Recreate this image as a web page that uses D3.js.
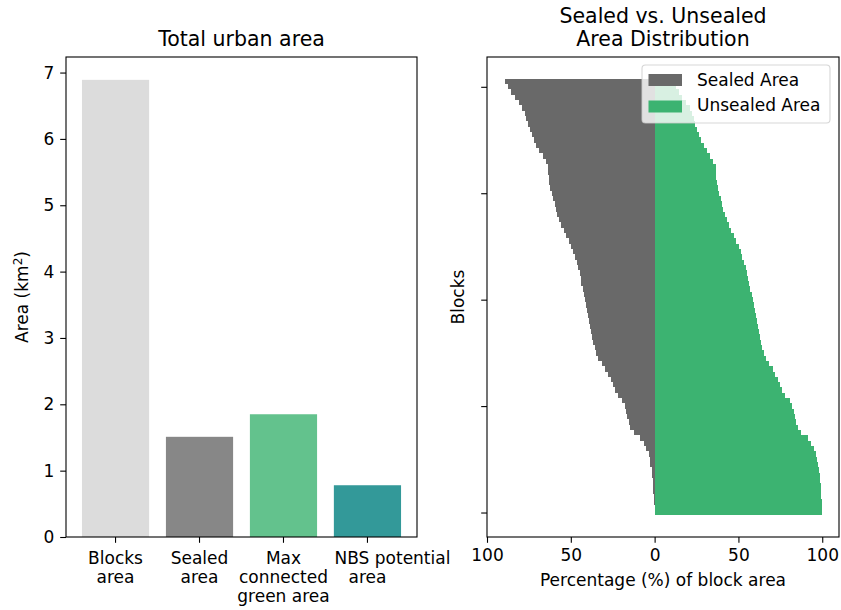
<!DOCTYPE html>
<html>
<head>
<meta charset="utf-8">
<script src="https://cdn.jsdelivr.net/npm/d3@7"></script>
<style>
  html, body { margin: 0; padding: 0; background: #fff; }
  svg { display: block; font-family: "DejaVu Sans", sans-serif; }
  svg text { font-family: "DejaVu Sans", sans-serif; }
</style>
</head>
<body>
<svg id="chart" width="841" height="610"></svg>
<script>
// ---------- DATA ----------
const categories = ["Blocks\narea", "Sealed\narea", "Max\nconnected\ngreen area", "NBS potential\narea"];
const areaValues = [6.89, 1.51, 1.85, 0.78];
const barColors = ["#dcdcdc", "#878787", "#63c28d", "#339999"];
const areaTicks = [0, 1, 2, 3, 4, 5, 6, 7];

// Per block (index 0 = bottom row), percentage of block area
const sealedPct = [0, 0, 0.3, 0.6, 0.8, 1, 1.2, 1.5, 1.8, 2.6, 3, 3.6, 5.2, 6.5, 8.5, 12.5, 14.4, 15.5, 16.5, 17,
  17.8, 19.5, 22, 23.8, 25, 26.3, 27.9, 29.5, 31.5, 33.8, 34.9, 35.8, 36.5, 37.2, 37.9, 38.5, 39.1, 39.6, 40.3, 41,
  41.5, 42, 43, 43.7, 44.2, 44.8, 45.5, 46.5, 47.6, 48.7, 49.7, 51.2, 52.8, 54.3, 55.6, 57, 58.2, 59, 59.7, 60.5,
  61.4, 62.4, 63, 63.2, 63.4, 63.6, 65, 66.8, 68.7, 70.6, 72.2, 73.3, 74.6, 75.8, 76.8, 77.6, 79, 81.2, 83.5, 85.5,
  87.5, 89.5];
const unsealedPct = [100, 100, 99.7, 99.4, 99.2, 99, 98.8, 98.5, 98.2, 97.4, 97, 96.4, 94.8, 93.5, 91.5, 87.5, 85.6, 84.5, 83.5, 83,
  82.2, 80.5, 78, 76.2, 75, 73.7, 72.1, 70.5, 68.5, 66.2, 65.1, 64.2, 63.5, 62.8, 62.1, 61.5, 60.9, 60.4, 59.7, 59,
  58.5, 58, 57, 56.3, 55.8, 55.2, 54.5, 53.5, 52.4, 51.3, 50.3, 48.8, 47.2, 45.7, 44.4, 43, 41.8, 41, 40.3, 39.5,
  38.6, 37.6, 37, 36.8, 36.6, 36.4, 35, 33.2, 31.3, 29.4, 27.8, 26.7, 25.4, 24.2, 23.2, 22.4, 21, 18.8, 16.5, 14.5,
  12.5, 10.5];
const pctTicks = [-100, -50, 0, 50, 100];
const blockTicks = [0, 20, 40, 60, 80];
const seriesNames = ["Sealed Area", "Unsealed Area"];
const seriesColors = ["#696969", "#3cb371"];

// ---------- LAYOUT ----------
const FONT = "DejaVu Sans, sans-serif";
const svg = d3.select("#chart");
const FS = 17, TFS = 20.5;
const L = { x0: 66, x1: 417, y0: 57, y1: 537 };
const R = { x0: 487, x1: 839, y0: 57, y1: 537 };
const tickLen = 5.8, tickPad = 5.8;

function styleAxis(a) {
  a.attr("font-family", FONT).attr("font-size", FS);
  a.select(".domain").remove();
  a.selectAll(".tick line").attr("stroke", "#000").attr("stroke-width", 1.1);
  a.selectAll(".tick text").style("font-size", FS + "px").style("font-family", FONT).attr("fill", "#000");
}

// ---------- LEFT CHART ----------
const xL = d3.scaleBand().domain(categories).range([L.x0, L.x1]).paddingInner(0.2).paddingOuter(0.19);
const yL = d3.scaleLinear().domain([0, d3.max(areaValues) * 1.05]).range([L.y1, L.y0]);

const gL = svg.append("g");
gL.selectAll("rect.bar").data(categories).join("rect")
  .attr("class", "bar")
  .attr("x", d => xL(d))
  .attr("width", xL.bandwidth())
  .attr("y", (d, i) => yL(areaValues[i]))
  .attr("height", (d, i) => yL(0) - yL(areaValues[i]))
  .attr("fill", (d, i) => barColors[i]);

const yAxisL = gL.append("g").attr("transform", `translate(${L.x0},0)`)
  .call(d3.axisLeft(yL).tickValues(areaTicks).tickFormat(d3.format("d")).tickSize(tickLen).tickPadding(tickPad));
const xAxisL = gL.append("g").attr("transform", `translate(0,${L.y1})`)
  .call(d3.axisBottom(xL).tickSize(tickLen).tickPadding(tickPad).tickFormat(""));
xAxisL.selectAll(".tick").each(function (d) {
  const lines = d.split("\n");
  const t = d3.select(this).append("text")
    .attr("fill", "#000").attr("text-anchor", "middle");
  lines.forEach((ln, i) => {
    // the wide first line of the last label sits shifted to the right in the original
    const dx = (lines[0] === "NBS potential" && i === 0) ? 25 : 0;
    t.append("tspan").attr("x", dx).attr("y", 26.5 + i * 19.4).text(ln);
  });
});
styleAxis(yAxisL);
styleAxis(xAxisL);

gL.append("rect").attr("x", L.x0).attr("y", L.y0).attr("width", L.x1 - L.x0).attr("height", L.y1 - L.y0)
  .attr("fill", "none").attr("stroke", "#000").attr("stroke-width", 1.1);
gL.append("text").attr("x", (L.x0 + L.x1) / 2).attr("y", 46).attr("text-anchor", "middle")
  .style("font-size", TFS + "px").text("Total urban area");
const ylab = gL.append("text").attr("transform", `translate(28,${(L.y0 + L.y1) / 2}) rotate(-90)`)
  .attr("text-anchor", "middle").style("font-size", FS + "px");
ylab.append("tspan").text("Area (km");
ylab.append("tspan").attr("dy", -6).style("font-size", "12px").text("2");
ylab.append("tspan").attr("dy", 6).text(")");

// ---------- RIGHT CHART ----------
const n = sealedPct.length;
const xR = d3.scaleLinear().domain([-100, 110]).range([R.x0, R.x1]);
const yR = d3.scaleLinear().domain([-0.5 - 0.05 * n, n - 0.5 + 0.05 * n]).range([R.y1, R.y0]);
const gR = svg.append("g");
const idx = d3.range(n);
gR.selectAll("rect.sealed").data(idx).join("rect")
  .attr("class", "sealed")
  .attr("x", i => xR(-sealedPct[i]))
  .attr("width", i => xR(0) - xR(-sealedPct[i]))
  .attr("y", i => yR(i + 0.5))
  .attr("height", i => yR(i - 0.5) - yR(i + 0.5))
  .attr("fill", seriesColors[0])
  .attr("shape-rendering", "crispEdges");
gR.selectAll("rect.unsealed").data(idx).join("rect")
  .attr("class", "unsealed")
  .attr("x", xR(0))
  .attr("width", i => xR(unsealedPct[i]) - xR(0))
  .attr("y", i => yR(i + 0.5))
  .attr("height", i => yR(i - 0.5) - yR(i + 0.5))
  .attr("fill", seriesColors[1])
  .attr("shape-rendering", "crispEdges");

const xAxisR = gR.append("g").attr("transform", `translate(0,${R.y1})`)
  .call(d3.axisBottom(xR).tickValues(pctTicks).tickFormat(d => Math.abs(d)).tickSize(tickLen).tickPadding(tickPad));
const yAxisR = gR.append("g").attr("transform", `translate(${R.x0},0)`)
  .call(d3.axisLeft(yR).tickValues(blockTicks).tickFormat("").tickSize(tickLen));
styleAxis(xAxisR);
styleAxis(yAxisR);
gR.append("rect").attr("x", R.x0).attr("y", R.y0).attr("width", R.x1 - R.x0).attr("height", R.y1 - R.y0)
  .attr("fill", "none").attr("stroke", "#000").attr("stroke-width", 1.1);

const tR = gR.append("text").attr("text-anchor", "middle").style("font-size", TFS + "px");
tR.append("tspan").attr("x", (R.x0 + R.x1) / 2).attr("y", 23).text("Sealed vs. Unsealed");
tR.append("tspan").attr("x", (R.x0 + R.x1) / 2).attr("y", 46).text("Area Distribution");
gR.append("text").attr("x", (R.x0 + R.x1) / 2).attr("y", 586).attr("text-anchor", "middle")
  .style("font-size", FS + "px").text("Percentage (%) of block area");
gR.append("text").attr("transform", `translate(464,${(R.y0 + R.y1) / 2}) rotate(-90)`)
  .attr("text-anchor", "middle").style("font-size", FS + "px").text("Blocks");

// legend
const lg = gR.append("g");
lg.append("rect").attr("x", 642).attr("y", 65).attr("width", 188).attr("height", 58)
  .attr("rx", 3.5).attr("fill", "#fff").attr("fill-opacity", 0.8)
  .attr("stroke", "#cccccc").attr("stroke-opacity", 0.8).attr("stroke-width", 1.1);
seriesNames.forEach((s, i) => {
  lg.append("rect").attr("x", 648.5).attr("y", 74 + i * 26.5).attr("width", 33.5).attr("height", 12)
    .attr("fill", seriesColors[i]);
  lg.append("text").attr("x", 697).attr("y", 86 + i * 24.5).style("font-size", FS + "px").text(s);
});
</script>
</body>
</html>
